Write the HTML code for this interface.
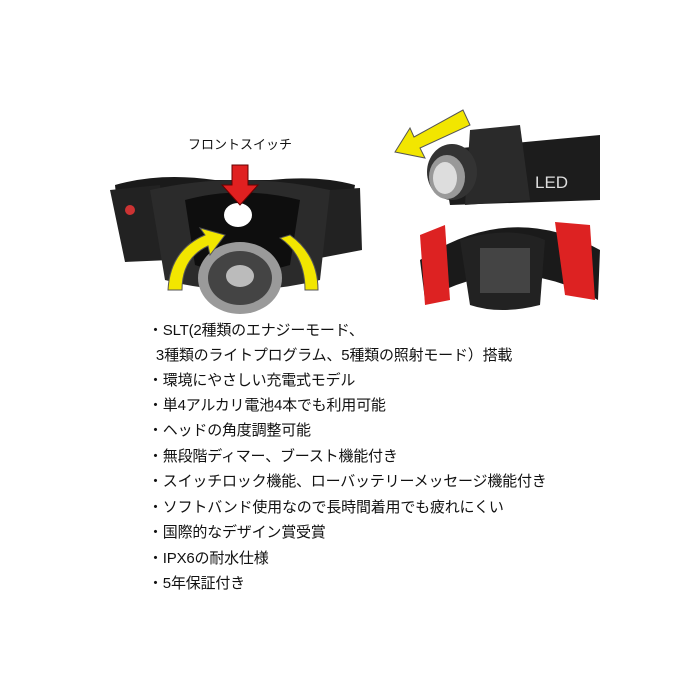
<!DOCTYPE html>
<html><head><meta charset="utf-8"><style>
body{margin:0;width:700px;height:700px;background:#fff;position:relative;overflow:hidden;font-family:"Liberation Sans","Noto Sans CJK JP",sans-serif}
.t{position:absolute;left:148px;font-size:15px;color:#111;white-space:nowrap;line-height:20px;letter-spacing:-0.2px}
</style></head><body>
<svg width="700" height="700" style="position:absolute;left:0;top:0">
<path d="M115 185 Q160 172 215 180 L270 180 Q320 175 355 185 L350 215 Q320 210 290 215 L200 215 Q150 210 118 215 Z" fill="#1a1a1a"/>
<path d="M110 190 L160 185 L170 260 L125 262 Z" fill="#222"/>
<path d="M330 190 L360 188 L362 250 L320 258 Z" fill="#222"/>
<path d="M150 190 Q240 170 330 190 L320 280 Q240 300 165 280 Z" fill="#2b2b2b"/>
<path d="M185 200 Q240 185 300 200 L290 265 Q240 280 195 265 Z" fill="#0e0e0e"/>
<ellipse cx="238" cy="215" rx="14" ry="12" fill="#fff"/>
<circle cx="130" cy="210" r="5" fill="#c33"/>
<ellipse cx="240" cy="278" rx="42" ry="36" fill="#9a9a9a"/>
<ellipse cx="240" cy="278" rx="32" ry="27" fill="#444"/>
<ellipse cx="240" cy="276" rx="14" ry="11" fill="#bbb"/>
<path d="M168 290 Q170 250 205 235 L200 228 L225 235 L210 255 L208 246 Q182 258 182 290 Z" fill="#f2e600" stroke="#555" stroke-width="1"/>
<path d="M305 290 Q305 255 280 238 L290 235 Q318 255 318 290 Z" fill="#f2e600" stroke="#555" stroke-width="1"/>
<path d="M232 165 L248 165 L248 185 L258 185 L240 205 L222 185 L232 185 Z" fill="#e02020" stroke="#600" stroke-width="1"/>
<path d="M440 150 L600 135 L600 200 L450 205 Z" fill="#1c1c1c"/>
<path d="M470 130 L520 125 L530 200 L465 205 Z" fill="#2a2a2a"/>
<ellipse cx="452" cy="172" rx="25" ry="28" fill="#333"/>
<ellipse cx="447" cy="177" rx="18" ry="22" fill="#999"/>
<ellipse cx="445" cy="178" rx="12" ry="16" fill="#ddd"/>
<text x="535" y="188" font-size="17" fill="#ddd" font-family="Liberation Sans">LED</text>
<path d="M463 110 L470 125 L420 148 L425 158 L395 152 L410 128 L414 137 Z" fill="#f2e600" stroke="#555" stroke-width="1"/>
<path d="M420 260 Q510 200 600 250 L598 300 Q510 250 425 300 Z" fill="#1a1a1a"/>
<path d="M420 235 L445 225 L450 300 L425 305 Z" fill="#d22"/>
<path d="M555 222 L590 225 L595 300 L565 295 Z" fill="#d22"/>
<path d="M460 240 Q510 225 545 240 L540 305 Q500 315 470 305 Z" fill="#222"/>
<rect x="480" y="248" width="50" height="45" fill="#444"/>
</svg>
<div style="position:absolute;left:188px;top:134px;font-size:13px;color:#111">フロントスイッチ</div>
<div class="t" style="top:321px">・SLT(2種類のエナジーモード、</div>
<div class="t" style="top:346px">&nbsp;&nbsp;3種類のライトプログラム、5種類の照射モード）搭載</div>
<div class="t" style="top:371px">・環境にやさしい充電式モデル</div>
<div class="t" style="top:396px">・単4アルカリ電池4本でも利用可能</div>
<div class="t" style="top:421px">・ヘッドの角度調整可能</div>
<div class="t" style="top:447px">・無段階ディマー、ブースト機能付き</div>
<div class="t" style="top:472px">・スイッチロック機能、ローバッテリーメッセージ機能付き</div>
<div class="t" style="top:498px">・ソフトバンド使用なので長時間着用でも疲れにくい</div>
<div class="t" style="top:523px">・国際的なデザイン賞受賞</div>
<div class="t" style="top:549px">・IPX6の耐水仕様</div>
<div class="t" style="top:574px">・5年保証付き</div>
</body></html>
